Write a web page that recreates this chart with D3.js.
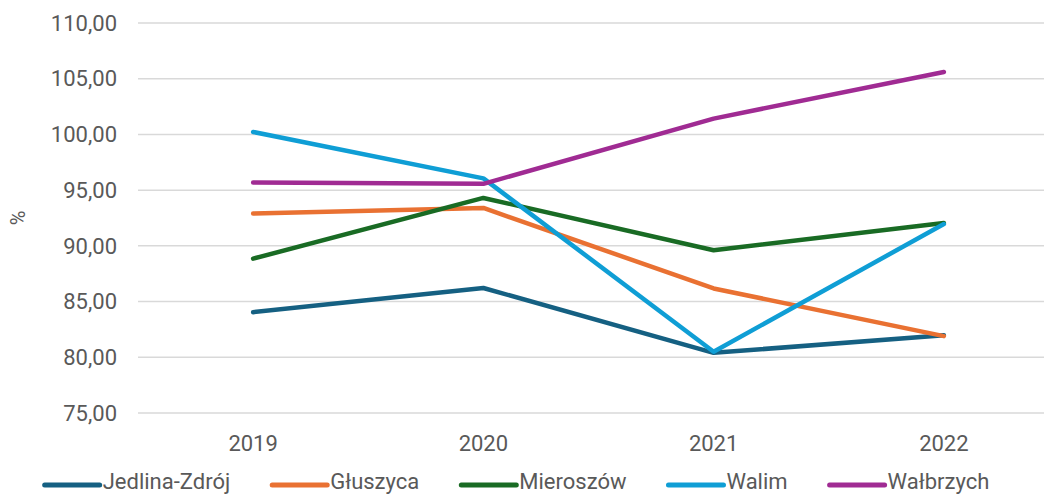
<!DOCTYPE html>
<html>
<head>
<meta charset="utf-8">
<script src="https://cdn.jsdelivr.net/npm/d3@7"></script>
<style>
  body { margin: 0; background: #fff; }
  text { font-family: Roboto, "Noto Sans", sans-serif; fill: #595959; }
</style>
</head>
<body>
<div id="chart"></div>
<script>
const years = ['2019', '2020', '2021', '2022'];
const seriesNames = ['Jedlina-Zdrój', 'Głuszyca', 'Mieroszów', 'Walim', 'Wałbrzych'];
const jedlina = [84.05, 86.22, 80.4, 81.98];
const gluszyca = [92.9, 93.4, 86.18, 81.9];
const mieroszow = [88.85, 94.3, 89.6, 92.05];
const walim = [100.22, 96.06, 80.5, 91.96];
const walbrzych = [95.68, 95.57, 101.42, 105.6];
const yTicks = [75, 80, 85, 90, 95, 100, 105, 110];
const colors = ['#156082', '#E97132', '#196B24', '#0F9ED5', '#A02B93'];

const width = 1044;
const height = 495;
const margin = { top: 23, right: -15, bottom: 82, left: 138 };

const series = [jedlina, gluszyca, mieroszow, walim, walbrzych].map((v, i) => ({
  name: seriesNames[i], color: colors[i], values: v
}));

const svg = d3.select('#chart')
  .append('svg')
  .attr('width', width)
  .attr('height', height);

const x = d3.scaleBand()
  .domain(years)
  .range([margin.left, width - margin.right]);

const y = d3.scaleLinear()
  .domain([75, 110])
  .range([height - margin.bottom, margin.top]);

// gridlines
svg.append('g')
  .selectAll('line')
  .data(yTicks)
  .enter()
  .append('line')
  .attr('x1', margin.left)
  .attr('x2', width - margin.right)
  .attr('y1', d => y(d))
  .attr('y2', d => y(d))
  .attr('stroke', '#d9d9d9')
  .attr('stroke-width', 1.5);

// y axis labels
const fmt = d3.format('.2f');
svg.append('g')
  .selectAll('text')
  .data(yTicks)
  .enter()
  .append('text')
  .attr('x', 117)
  .attr('y', d => y(d))
  .attr('dy', '0.35em')
  .attr('text-anchor', 'end')
  .attr('font-size', 22)
  .text(d => fmt(d).replace('.', ','));

svg.append('text')
  .attr('transform', `translate(25,${(y(75) + y(110)) / 2}) rotate(-90)`)
  .attr('text-anchor', 'middle')
  .attr('font-size', 20)
  .text('%');

// x labels
svg.append('g')
  .selectAll('text')
  .data(years)
  .enter()
  .append('text')
  .attr('x', d => x(d) + x.bandwidth() / 2)
  .attr('y', 451)
  .attr('text-anchor', 'middle')
  .attr('font-size', 22)
  .text(d => d);

// lines
const line = d3.line()
  .x((d, i) => x(years[i]) + x.bandwidth() / 2)
  .y(d => y(d));

svg.append('g')
  .selectAll('path')
  .data(series)
  .enter()
  .append('path')
  .attr('d', d => line(d.values))
  .attr('fill', 'none')
  .attr('stroke', d => d.color)
  .attr('stroke-width', 4.5)
  .attr('stroke-linecap', 'round')
  .attr('stroke-linejoin', 'round');

// legend
const legend = svg.append('g');
const items = legend.selectAll('g')
  .data(series)
  .enter()
  .append('g');

items.append('line')
  .attr('x1', 0)
  .attr('x2', 55)
  .attr('y1', 0)
  .attr('y2', 0)
  .attr('stroke', d => d.color)
  .attr('stroke-width', 5)
  .attr('stroke-linecap', 'round');

items.append('text')
  .attr('x', 58)
  .attr('y', 4)
  .attr('font-size', 22)
  .text(d => d.name);

let pos = 0;
const gap = 42;
items.each(function () {
  const w = 58 + d3.select(this).select('text').node().getComputedTextLength();
  d3.select(this).attr('transform', `translate(${pos},0)`);
  pos += w + gap;
});
const total = pos - gap;
legend.attr('transform', `translate(${517 - total / 2},485)`);
</script>
</body>
</html>
